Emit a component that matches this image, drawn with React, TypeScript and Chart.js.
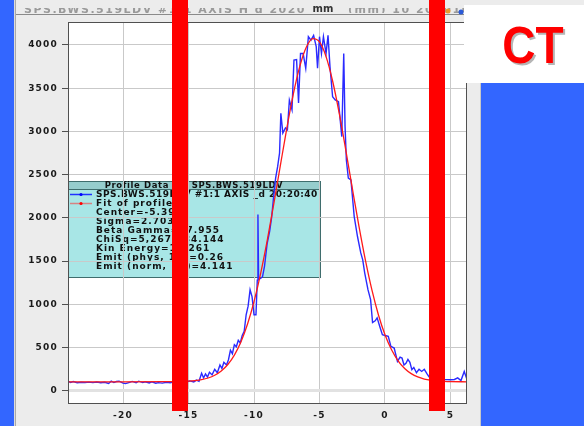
import React, { useEffect, useRef } from "react";
import { Chart, registerables } from "chart.js";
Chart.register(...registerables);

const profileX = [
  -24.2, -24.0, -23.8, -23.5, -23.2, -22.9, -22.6, -22.3, -22.0, -21.7,
  -21.4, -21.1, -20.9, -20.7, -20.5, -20.3, -20.0, -19.8, -19.5, -19.3,
  -19.0, -18.8, -18.5, -18.3, -18.0, -17.8, -17.5, -17.3, -17.0, -16.7,
  -16.4, -16.1, -15.8, -15.5, -15.2, -14.9, -14.6, -14.4, -14.2, -14.0,
  -13.85, -13.7, -13.55, -13.4, -13.2, -13.0, -12.8, -12.6, -12.45, -12.3,
  -12.1, -11.95, -11.8, -11.65, -11.5, -11.35, -11.2, -11.05, -10.9, -10.75,
  -10.6, -10.45, -10.3, -10.15, -10.0, -9.85, -9.75, -9.7, -9.65, -9.5,
  -9.35, -9.2, -9.0, -8.8, -8.65, -8.5, -8.35, -8.2, -8.05, -7.95,
  -7.8, -7.6, -7.45, -7.3, -7.1, -6.95, -6.75, -6.6, -6.45, -6.25,
  -6.05, -5.85, -5.65, -5.45, -5.25, -5.15, -5.0, -4.85, -4.7, -4.5,
  -4.35, -4.2, -4.0, -3.8, -3.55, -3.3, -3.15, -3.05, -2.95, -2.8,
  -2.6, -2.35, -2.1, -1.85, -1.7, -1.55, -1.3, -1.1, -0.95, -0.75,
  -0.6, -0.4, -0.2, 0.0, 0.25, 0.45, 0.7, 0.95, 1.15, 1.3,
  1.45, 1.6, 1.75, 1.9, 2.05, 2.2, 2.4, 2.6, 2.8, 3.0,
  3.2, 3.35, 3.5, 3.8, 4.1, 4.4, 4.7, 5.0, 5.3, 5.55,
  5.8, 6.05, 6.26,
];
const profileY = [
  112, 98, 108, 95, 100, 97, 101, 96, 102, 94,
  99, 85, 112, 96, 108, 112, 90, 84, 98, 110,
  94, 112, 96, 106, 92, 105, 88, 96, 90, 100,
  94, 104, 98, 108, 100, 116, 104, 125, 112, 205,
  150, 195, 160, 215, 185, 250, 210, 300, 260, 330,
  300, 360, 470, 430, 535, 510, 585, 555, 640, 690,
  880, 980, 1170, 1090, 880, 880, 1280, 2040, 1290, 1300,
  1320, 1440, 1700, 1850, 2010, 2250, 2460, 2590, 2750, 3210,
  2980, 3040, 3020, 3360, 3250, 3825, 3830, 3330, 3900, 3900,
  3730, 4095, 4055, 4110, 3980, 3730, 4095, 3900, 4095, 3900,
  4110, 3750, 3400, 3365, 3345, 2940, 3900, 3060, 2670, 2460,
  2440, 2015, 1785, 1595, 1515, 1365, 1170, 1055, 790, 810,
  845, 745, 650, 640, 630, 515, 495, 340, 390, 380,
  300, 320, 365, 330, 245, 270, 210, 250, 225, 250,
  200, 165, 140, 128, 124, 130, 130, 128, 132, 150,
  120, 225, 130,
];

const fitX = [
  -24.2, -20, -17, -16, -15, -14.5, -14, -13.5, -13, -12.5,
  -12, -11.5, -11, -10.5, -10, -9.5, -9, -8.5, -8, -7.5,
  -7, -6.5, -6, -5.5, -5, -4.5, -4, -3.5, -3, -2.5,
  -2, -1.5, -1, -0.5, 0, 0.5, 1, 1.5, 2, 2.5,
  3, 3.5, 4, 4.5, 5, 6.26,
];
const fitY = [
  105, 105, 106, 107, 112, 119, 130, 149, 181, 230,
  305, 414, 566, 770, 1032, 1354, 1732, 2153, 2596, 3032,
  3430, 3754, 3975, 4072, 4034, 3865, 3583, 3214, 2790, 2346,
  1913, 1514, 1167, 878, 649, 475, 348, 259, 200, 161,
  137, 123, 115, 110, 107, 105,
];

const xTicks = [-20, -15, -10, -5, 0, 5];
const yTicks = [0, 500, 1000, 1500, 2000, 2500, 3000, 3500, 4000];

const legendTitle = "Profile Data for SPS.BWS.519LDV";
const legendSeries = ["SPS.BWS.519LDV #1:1 AXIS _d 20:20:40", "Fit of profile"];
const legendStats = [
  "Center=-5.39",
  "Sigma=2.703",
  "Beta Gamma=27.955",
  "ChiSq=5,267,884.144",
  "Kin Energy=13.261",
  "Emit (phys, 1σ)=0.26",
  "Emit (norm, 1σ)=4.141",
];
const topTitle = "SPS.BWS.519LDV #1:1 AXIS H d 20201010 (mm) 10 20201010 20:20:40";
const axisUnit = "mm";
const stamp = "CT";

const FONT = '"DejaVu Sans", sans-serif';

export default function App() {
  const ref = useRef<HTMLCanvasElement | null>(null);

  useEffect(() => {
    const canvas = ref.current!;
    const decor = {
      id: "decor",
      beforeDraw(chart: any) {
        const ctx = chart.ctx as CanvasRenderingContext2D;
        const a = chart.chartArea;
        ctx.save();
        ctx.fillStyle = "#ececec";
        ctx.fillRect(0, 0, 584, 426);
        ctx.fillStyle = "#ffffff";
        ctx.fillRect(a.left, a.top, a.right - a.left, a.bottom - a.top);

        // separator under title
        ctx.strokeStyle = "#8a8a8a";
        ctx.lineWidth = 1;
        ctx.beginPath();
        ctx.moveTo(16, 14.5);
        ctx.lineTo(464, 14.5);
        ctx.stroke();

        // legend box
        const bx = 68, by = 181, bw = 253, bh = 97;
        ctx.fillStyle = "rgb(168,230,230)";
        ctx.fillRect(bx, by, bw, bh);
        ctx.fillStyle = "rgb(150,205,205)";
        ctx.fillRect(bx, by, bw, 8);
        ctx.strokeStyle = "#3f6d6d";
        ctx.strokeRect(bx + 0.5, by + 0.5, bw - 1, bh - 1);
        ctx.beginPath();
        ctx.moveTo(bx, by + 8.5);
        ctx.lineTo(bx + bw, by + 8.5);
        ctx.stroke();

        ctx.fillStyle = "#111";
        ctx.textBaseline = "middle";
        ctx.textAlign = "center";
        (ctx as any).letterSpacing = "0.6px";
        ctx.font = `bold 8.5px ${FONT}`;
        ctx.fillText(legendTitle, 194, 185.5);
        ctx.textAlign = "left";
        ctx.font = `bold 9px ${FONT}`;
        const rows = [...legendSeries, ...legendStats];
        rows.forEach((t, i) => {
          (ctx as any).letterSpacing = i === 0 ? "0.5px" : "1px";
          ctx.fillStyle = "#111";
          ctx.fillText(t, 96, 194.5 + 9 * i);
        });
        // series samples
        const samples = [
          { y: 194.5, line: "#2030ff", dot: "#0000ff" },
          { y: 203.5, line: "rgb(215,130,130)", dot: "#ff0000" },
        ];
        samples.forEach((s) => {
          ctx.strokeStyle = s.line;
          ctx.lineWidth = 1.5;
          ctx.beginPath();
          ctx.moveTo(70, s.y);
          ctx.lineTo(92, s.y);
          ctx.stroke();
          ctx.fillStyle = s.dot;
          ctx.beginPath();
          ctx.arc(81, s.y, 1.6, 0, Math.PI * 2);
          ctx.fill();
        });
        ctx.restore();
        (ctx as any).letterSpacing = "1.2px";
      },
      afterDraw(chart: any) {
        const ctx = chart.ctx as CanvasRenderingContext2D;
        const a = chart.chartArea;
        ctx.save();
        (ctx as any).letterSpacing = "0px";
        // frame
        ctx.strokeStyle = "#505050";
        ctx.lineWidth = 1;
        ctx.strokeRect(a.left + 0.5, a.top + 0.5, a.right - a.left - 1, a.bottom - a.top);

        // title text (cut at top)
        ctx.save();
        ctx.beginPath();
        ctx.rect(16, 8, 448, 5);
        ctx.clip();
        ctx.fillStyle = "#9a9a9a";
        ctx.font = `bold 11px ${FONT}`;
        (ctx as any).letterSpacing = "1.5px";
        ctx.textAlign = "left";
        ctx.textBaseline = "alphabetic";
        ctx.fillText(topTitle, 24, 13);
        ctx.restore();
        ctx.fillStyle = "#ececec";
        ctx.fillRect(305, 3, 36, 10);
        ctx.fillStyle = "#333";
        ctx.font = `bold 10px ${FONT}`;
        ctx.textAlign = "center";
        ctx.textBaseline = "alphabetic";
        ctx.fillText(axisUnit, 323, 12);
        // small icons
        ctx.fillStyle = "#e89a30";
        ctx.beginPath();
        ctx.arc(448, 11, 2.5, 0, Math.PI * 2);
        ctx.fill();
        ctx.fillStyle = "#2a5ad8";
        ctx.beginPath();
        ctx.arc(461, 12, 2.5, 0, Math.PI * 2);
        ctx.fill();

        // red bars
        ctx.fillStyle = "#ff0000";
        ctx.fillRect(172, 0, 16, 411);
        ctx.fillRect(429, 0, 16, 411);

        // left blue strip
        ctx.fillStyle = "#3366ff";
        ctx.fillRect(0, 0, 14, 426);
        ctx.fillStyle = "#dcdcdc";
        ctx.fillRect(14, 0, 1, 426);
        ctx.fillStyle = "#a9a9a9";
        ctx.fillRect(15, 0, 1, 426);

        // right blue panel
        ctx.fillStyle = "#3366ff";
        ctx.fillRect(481, 83, 103, 343);
        ctx.fillStyle = "#c8c8c8";
        ctx.fillRect(480, 83, 1, 343);

        // CT box
        ctx.fillStyle = "#ffffff";
        ctx.fillRect(464, 5, 120, 78);
        ctx.font = `bold 46px "Liberation Sans", Arial, sans-serif`;
        ctx.textAlign = "center";
        ctx.textBaseline = "alphabetic";
        ctx.save();
        ctx.translate(533, 63);
        ctx.scale(1, 1.12);
        ctx.fillStyle = "rgba(120,120,120,0.55)";
        ctx.fillText(stamp, 2, 2);
        ctx.fillStyle = "#ff0000";
        ctx.fillText(stamp, 0, 0);
        ctx.restore();
        ctx.restore();
      },
    };

    const tickFont = { family: FONT, size: 9, weight: "bold" as const };

    const chart = new Chart(canvas, {
      type: "scatter",
      data: {
        datasets: [
          {
            label: "Fit of profile",
            data: fitX.map((x, i) => ({ x, y: fitY[i] })),
            showLine: true,
            borderColor: "#ff1a1a",
            borderWidth: 1.3,
            pointRadius: 0,
            cubicInterpolationMode: "monotone",
          },
          {
            label: "SPS.BWS.519LDV",
            data: profileX.map((x, i) => ({ x, y: profileY[i] })),
            showLine: true,
            borderColor: "#2a2aff",
            borderWidth: 1.4,
            pointRadius: 0,
            tension: 0,
          },
        ],
      },
      options: {
        animation: false,
        responsive: false,
        devicePixelRatio: 1,
        layout: { padding: { left: 0, top: 22, right: 117, bottom: 0 } },
        plugins: {
          legend: { display: false },
          tooltip: { enabled: false },
          title: { display: false },
        },
        scales: {
          x: {
            type: "linear",
            min: -24.2,
            max: 6.26,
            afterBuildTicks: (s: any) => {
              s.ticks = xTicks.map((v) => ({ value: v }));
            },
            afterFit: (s: any) => {
              s.height = 23;
            },
            border: { display: false },
            grid: {
              color: "#c9c9c9",
              lineWidth: 1,
              drawTicks: false,
            },
            ticks: {
              font: tickFont,
              color: "#1a1a1a",
              padding: 7,
              maxRotation: 0,
              autoSkip: false,
              callback: (v: any) => String(v),
            },
          },
          y: {
            type: "linear",
            min: -140,
            max: 4265,
            afterBuildTicks: (s: any) => {
              s.ticks = yTicks.map((v) => ({ value: v }));
            },
            afterFit: (s: any) => {
              s.width = 68;
            },
            border: { display: false },
            grid: {
              color: (c: any) => (c.tick && c.tick.value === 0 ? "#e2e2e2" : "#c9c9c9"),
              lineWidth: (c: any) => (c.tick && c.tick.value === 0 ? 3 : 1),
              drawTicks: true,
              tickLength: 6,
              tickColor: "#505050",
              tickWidth: 1,
            },
            ticks: {
              font: tickFont,
              color: "#1a1a1a",
              padding: 4,
              autoSkip: false,
              callback: (v: any) => String(v),
            },
          },
        },
      },
      plugins: [decor],
    } as any);

    return () => chart.destroy();
  }, []);

  return (
    <div style={{ position: "fixed", left: 0, top: 0, width: 584, height: 426 }}>
      <canvas ref={ref} width={584} height={426} style={{ width: 584, height: 426, display: "block" }} />
    </div>
  );
}
